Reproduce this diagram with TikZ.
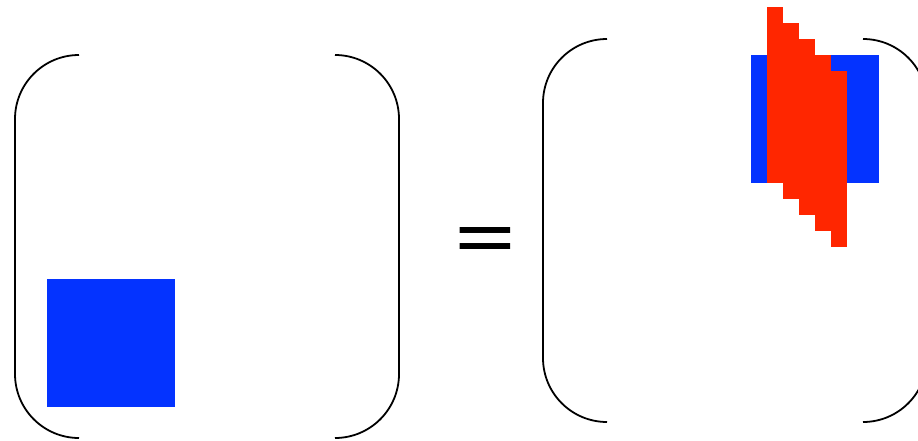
\documentclass[tikz,border=0pt]{standalone}
\usepackage{fontspec}
\newfontfamily\eqfont{TeX Gyre Heros}
\definecolor{mblue}{RGB}{4,51,255}
\definecolor{mred}{RGB}{255,38,0}
\tikzset{
  bracket/.style={line width=1.8pt, rounded corners=64pt},
  bluesq/.style={fill=mblue, draw=none},
  redcol/.style={fill=mred, draw=none},
}
\begin{document}
\begin{tikzpicture}[x=1pt,y=-1pt]
\useasboundingbox (0,0) rectangle (918,441);
\clip (0,0) rectangle (918,441);
% left matrix
\draw[bracket] (79,55) -- (15,55) -- (15,438) -- (79,438);
\draw[bracket] (335,55) -- (399,55) -- (399,438) -- (335,438);
\fill[bluesq] (47,279) rectangle (175,407);
% equals
\node[anchor=base, inner sep=0pt, xscale=1.28, font=\eqfont\fontsize{88}{88}\selectfont] (eq) at (485,260.5) {=};
% right matrix
\draw[bracket] (607,39) -- (543,39) -- (543,422) -- (607,422);
\draw[bracket] (863,39) -- (927,39) -- (927,422) -- (863,422);
\fill[bluesq] (751,55) rectangle (879,183);
\foreach \i in {0,...,4} {
  \fill[redcol] ({767+16*\i},{7+16*\i}) rectangle ({783+16*\i},{183+16*\i});
}
\end{tikzpicture}
\end{document}
